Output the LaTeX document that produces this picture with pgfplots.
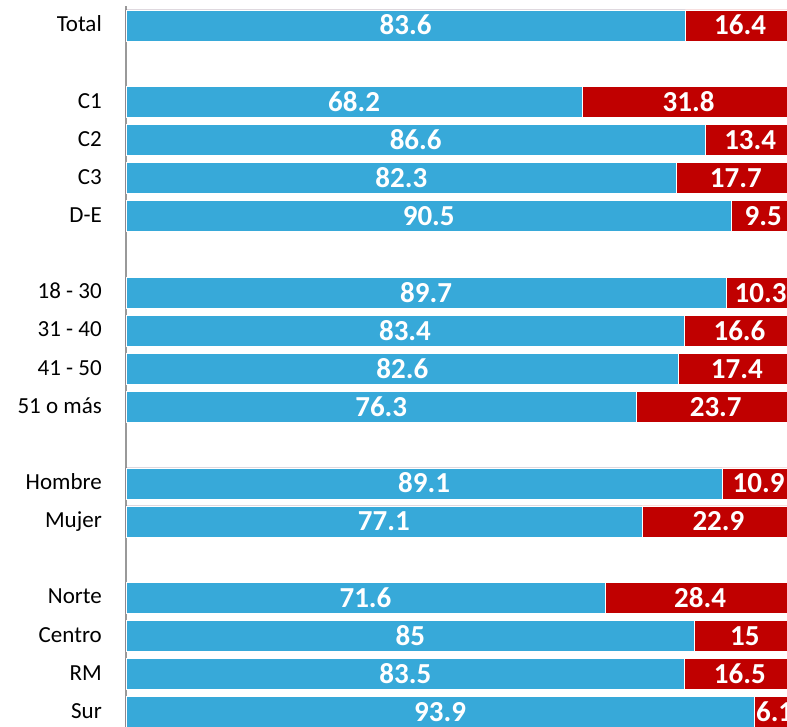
\documentclass[border=0pt]{standalone}
\usepackage{fontspec}
\setmainfont{Carlito}
\usepackage{pgfplots}
\usepackage{pgfplotstable}
\pgfplotsset{compat=1.18}
\definecolor{barblue}{HTML}{37A9D9}
\definecolor{barred}{HTML}{C00000}
% pos = row on the axis (blank rows between groups)
\pgfplotstableread{
pos blue red
0  83.6 16.4
2  68.2 31.8
3  86.6 13.4
4  82.3 17.7
5  90.5 9.5
7  89.7 10.3
8  83.4 16.6
9  82.6 17.4
10 76.3 23.7
12 89.1 10.9
13 77.1 22.9
15 71.6 28.4
16 85   15
17 83.5 16.5
18 93.9 6.1
}\data
\begin{document}
\begin{tikzpicture}[x=1pt,y=1pt]
\begin{axis}[
    at={(126pt,720pt)}, anchor=north west,
    width=661pt, height=725.3pt, scale only axis,
    xmin=0, xmax=98.8, ymin=-0.511, ymax=18.5, y dir=reverse,
    axis x line=none, axis y line*=left,
    y axis line style={-, draw=gray!80, line width=1.5pt},
    ytick={0,2,3,4,5,7,8,9,10,12,13,15,16,17,18},
    yticklabels={Total,C1,C2,C3,D-E,18 - 30,31 - 40,41 - 50,51 o más,Hombre,Mujer,Norte,Centro,RM,Sur},
    major tick length=0pt, ytick style={draw=none},
    yticklabel style={font=\fontsize{23}{23}\selectfont, anchor=base east,
        inner sep=0pt, xshift=-24pt, yshift=-6.2pt},
    nodes near coords style={font=\fontsize{29}{29}\selectfont\bfseries,
        text=white, anchor=base, inner sep=0pt, yshift=-9.5pt},
]
\addplot[xbar, bar width=31pt, bar shift=0pt, fill=barred, draw=white, line width=0.6pt]
    table[x expr=\thisrow{blue}+\thisrow{red}, y=pos] {\data};
\addplot[xbar, bar width=31pt, bar shift=0pt, fill=barblue, draw=white, line width=0.6pt]
    table[x=blue, y=pos] {\data};
\addplot[draw=none, mark=none, nodes near coords, point meta=explicit symbolic]
    table[x expr=\thisrow{blue}/2, y=pos, meta=blue] {\data};
\addplot[draw=none, mark=none, nodes near coords, point meta=explicit symbolic]
    table[x expr=\thisrow{blue}+\thisrow{red}/2, y=pos, meta=red] {\data};
\end{axis}
\pgfresetboundingbox
\path[use as bounding box] (0,0) rectangle (787,726);
\end{tikzpicture}
\end{document}
